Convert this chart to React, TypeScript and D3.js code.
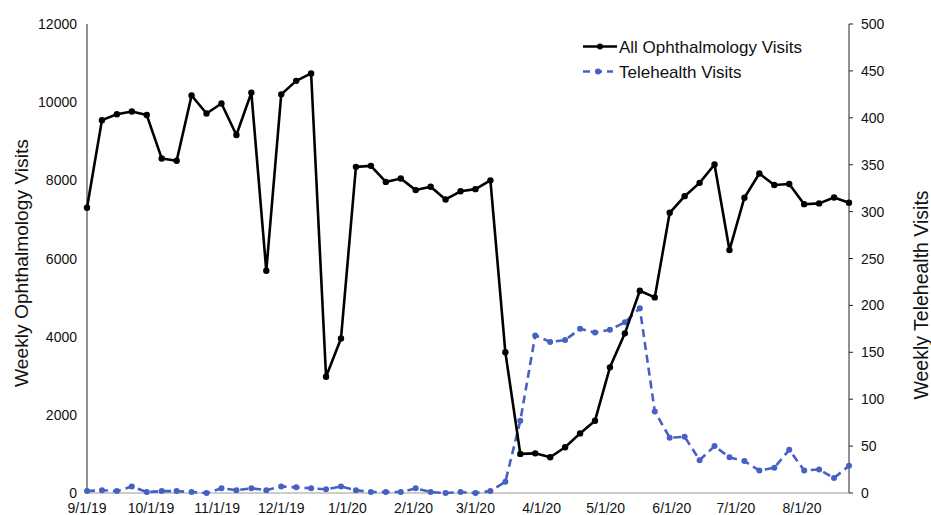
import React from "react";
import * as d3 from "d3";

const weeks: string[] = [
  "2019-09-01","2019-09-08","2019-09-15","2019-09-22","2019-09-29",
  "2019-10-06","2019-10-13","2019-10-20","2019-10-27",
  "2019-11-03","2019-11-10","2019-11-17","2019-11-24",
  "2019-12-01","2019-12-08","2019-12-15","2019-12-22","2019-12-29",
  "2020-01-05","2020-01-12","2020-01-19","2020-01-26",
  "2020-02-02","2020-02-09","2020-02-16","2020-02-23",
  "2020-03-01","2020-03-08","2020-03-15","2020-03-22","2020-03-29",
  "2020-04-05","2020-04-12","2020-04-19","2020-04-26",
  "2020-05-03","2020-05-10","2020-05-17","2020-05-24","2020-05-31",
  "2020-06-07","2020-06-14","2020-06-21","2020-06-28",
  "2020-07-05","2020-07-12","2020-07-19","2020-07-26",
  "2020-08-02","2020-08-09","2020-08-16","2020-08-23",
];

const allVisits: number[] = [
  7300, 9540, 9690, 9760, 9670, 8560, 8500, 10170, 9710, 9965,
  9160, 10245, 5685, 10200, 10545, 10735, 2975, 3955, 8345, 8370,
  7960, 8045, 7750, 7835, 7510, 7720, 7775, 8000, 3600, 1000,
  1015, 915, 1170, 1525, 1850, 3215, 4085, 5175, 5005, 7170,
  7595, 7935, 8405, 6215, 7555, 8175, 7880, 7905, 7390, 7410,
  7560, 7425,
];

const teleVisits: number[] = [
  2, 3, 2, 7, 1, 2, 2, 1, 0, 5,
  3, 5, 3, 7, 6, 5, 4, 7, 3, 1,
  1, 1, 5, 1, 0, 1, 0, 2, 12, 77,
  168, 161, 163, 175, 171, 174, 182, 197, 87, 59,
  60, 35, 50, 38, 34, 24, 27, 46, 24, 25,
  16, 29,
];

const xTicks: string[] = [
  "2019-09-01","2019-10-01","2019-11-01","2019-12-01","2020-01-01","2020-02-01",
  "2020-03-01","2020-04-01","2020-05-01","2020-06-01","2020-07-01","2020-08-01",
];
const leftTicks: number[] = [0, 2000, 4000, 6000, 8000, 10000, 12000];
const rightTicks: number[] = [0, 50, 100, 150, 200, 250, 300, 350, 400, 450, 500];

const W = 931;
const H = 515;
const left = 87;
const right = 849;
const top = 24;
const bottom = 493;
const FONT = "'Liberation Sans', Arial, Helvetica, sans-serif";
const BLUE = "#4660c4";

const parse = d3.timeParse("%Y-%m-%d");

export default function App() {
  const dates = weeks.map((w) => parse(w) as Date);
  const x = d3
    .scaleTime()
    .domain([dates[0], dates[dates.length - 1]])
    .range([left, right]);
  const yL = d3.scaleLinear().domain([0, 12000]).range([bottom, top]);
  const yR = d3.scaleLinear().domain([0, 500]).range([bottom, top]);
  const fmt = (d: Date) =>
    `${d.getMonth() + 1}/${d.getDate()}/${String(d.getFullYear()).slice(2)}`;

  const lineL = d3
    .line<number>()
    .x((_, i) => x(dates[i]))
    .y((v) => yL(v));
  const lineR = d3
    .line<number>()
    .x((_, i) => x(dates[i]))
    .y((v) => yR(v));

  return (
    <svg
      width={W}
      height={H}
      style={{ position: "absolute", left: 0, top: 0, background: "#fff" }}
      fontFamily={FONT}
    >
      <rect width={W} height={H} fill="#fff" />
      {/* axes */}
      <line x1={left} x2={left} y1={top} y2={bottom} stroke="#222" strokeWidth={1} />
      <line x1={right} x2={right} y1={top} y2={bottom} stroke="#222" strokeWidth={1} />
      <line x1={left} x2={right} y1={bottom} y2={bottom} stroke="#9a9a9a" strokeWidth={1.2} />
      {leftTicks.map((t) => (
        <text key={"l" + t} x={left - 10} y={yL(t) + 5} fontSize={14} textAnchor="end" fill="#111">
          {t}
        </text>
      ))}
      {rightTicks.map((t) => (
        <g key={"r" + t}>
          <line x1={right} x2={right + 4} y1={yR(t)} y2={yR(t)} stroke="#222" strokeWidth={1} />
          <text x={right + 12} y={yR(t) + 5} fontSize={14} textAnchor="start" fill="#111">
            {t}
          </text>
        </g>
      ))}
      {xTicks.map((t) => {
        const d = parse(t) as Date;
        return (
          <text key={"x" + t} x={x(d)} y={513} fontSize={14} textAnchor="middle" fill="#111">
            {fmt(d)}
          </text>
        );
      })}
      {/* titles */}
      <text
        transform={`translate(28, 263) rotate(-90)`}
        fontSize={19.2}
        textAnchor="middle"
        fill="#111"
      >
        Weekly Ophthalmology Visits
      </text>
      <text
        transform={`translate(928, 295) rotate(-90)`}
        fontSize={19.5}
        textAnchor="middle"
        fill="#111"
      >
        Weekly Telehealth Visits
      </text>
      {/* series */}
      <path
        d={lineR(teleVisits) || ""}
        fill="none"
        stroke={BLUE}
        strokeWidth={2.6}
        strokeDasharray="8,5"
      />
      {teleVisits.map((v, i) => (
        <circle key={"b" + i} cx={x(dates[i])} cy={yR(v)} r={3} fill={BLUE} />
      ))}
      <path d={lineL(allVisits) || ""} fill="none" stroke="#000" strokeWidth={2.6} strokeLinejoin="round" />
      {allVisits.map((v, i) => (
        <circle key={"k" + i} cx={x(dates[i])} cy={yL(v)} r={3.2} fill="#000" />
      ))}
      {/* legend */}
      <line x1={583} x2={617} y1={46.5} y2={46.5} stroke="#000" strokeWidth={2.6} />
      <circle cx={600} cy={46.5} r={3} fill="#000" />
      <text x={619} y={52.5} fontSize={17} fill="#111">
        All Ophthalmology Visits
      </text>
      <line x1={583} x2={613} y1={71.5} y2={71.5} stroke={BLUE} strokeWidth={2.6} strokeDasharray="7,5" />
      <circle cx={598} cy={71.5} r={3} fill={BLUE} />
      <text x={619} y={77.5} fontSize={17} fill="#111">
        Telehealth Visits
      </text>
    </svg>
  );
}
